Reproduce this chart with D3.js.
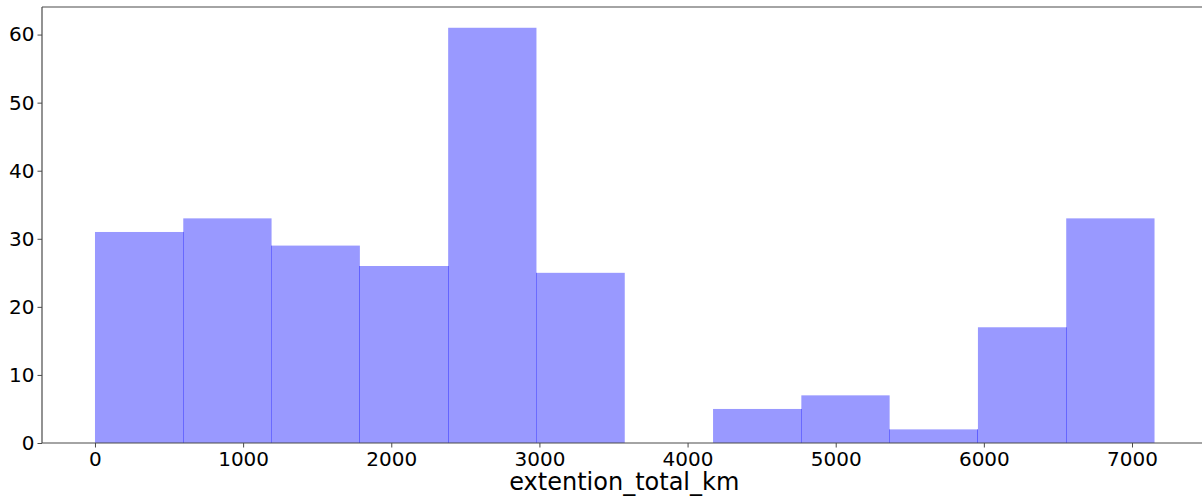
<!DOCTYPE html>
<html>
<head>
<meta charset="utf-8">
<script src="https://cdn.jsdelivr.net/npm/d3@7"></script>
<style>
  html, body { margin: 0; padding: 0; background: #fff; }
  svg { display: block; }
  text { font-family: "DejaVu Sans", sans-serif; fill: #000; }
</style>
</head>
<body>
<svg id="chart" width="1202" height="497"></svg>
<script>
// Histogram of extention_total_km: 12 equal bins
const binStart = 0;
const binEnd = 7152;
const counts = [31, 33, 29, 26, 61, 25, 0, 5, 7, 2, 17, 33];
const xTicks = [0, 1000, 2000, 3000, 4000, 5000, 6000, 7000];
const yTicks = [0, 10, 20, 30, 40, 50, 60];
const xLabel = "extention_total_km";

const W = 1202, H = 497;
const plotLeft = 42, plotTop = 7, plotBottom = 443;
const plotRight = 1207.5;

const svg = d3.select("#chart");

const binW = (binEnd - binStart) / counts.length;
const bins = counts.map((c, i) => ({ x0: binStart + i * binW, x1: binStart + (i + 1) * binW, n: c }));

const pad = (binEnd - binStart) * 0.05;
const x = d3.scaleLinear().domain([binStart - pad, binEnd + pad]).range([plotLeft, plotRight]);
const yMax = d3.max(counts) * 1.05;
const y = d3.scaleLinear().domain([0, yMax]).range([plotBottom, plotTop]);

// bars
svg.append("g").selectAll("rect")
  .data(bins.filter(d => d.n > 0))
  .join("rect")
  .attr("x", d => x(d.x0))
  .attr("width", d => x(d.x1) - x(d.x0))
  .attr("y", d => y(d.n))
  .attr("height", d => y(0) - y(d.n))
  .attr("fill", "#9999ff");

// seams where two filled bars touch
const seams = [];
for (let i = 1; i < bins.length; i++) {
  if (bins[i].n > 0 && bins[i - 1].n > 0) seams.push({ at: bins[i].x0, h: Math.min(bins[i].n, bins[i - 1].n) });
}
svg.append("g").selectAll("line")
  .data(seams)
  .join("line")
  .attr("x1", d => Math.floor(x(d.at)) + 0.5).attr("x2", d => Math.floor(x(d.at)) + 0.5)
  .attr("y1", y(0)).attr("y2", d => y(d.h))
  .attr("stroke", "rgba(0,0,255,0.4)")
  .attr("stroke-width", 1);

// spines
const spine = svg.append("g").attr("stroke", "#4a4a4a").attr("stroke-width", 1.2).attr("fill", "none");
spine.append("line").attr("x1", plotLeft).attr("x2", W).attr("y1", plotTop).attr("y2", plotTop);
spine.append("line").attr("x1", plotLeft).attr("x2", W).attr("y1", plotBottom).attr("y2", plotBottom);
spine.append("line").attr("x1", plotLeft).attr("x2", plotLeft).attr("y1", plotTop).attr("y2", plotBottom);

// x axis
const xAxis = d3.axisBottom(x).tickValues(xTicks).tickSize(4.5).tickPadding(4.5).tickFormat(d3.format("d"));
const gx = svg.append("g").attr("transform", `translate(0,${plotBottom})`).call(xAxis);
gx.select(".domain").remove();
gx.selectAll(".tick line").attr("stroke", "#4a4a4a").attr("stroke-width", 1);
gx.selectAll(".tick text").attr("font-size", 20).attr("font-family", "DejaVu Sans").attr("fill", "#000");

// y axis
const yAxis = d3.axisLeft(y).tickValues(yTicks).tickSize(4.5).tickPadding(3).tickFormat(d3.format("d"));
const gy = svg.append("g").attr("transform", `translate(${plotLeft},0)`).call(yAxis);
gy.select(".domain").remove();
gy.selectAll(".tick line").attr("stroke", "#4a4a4a").attr("stroke-width", 1);
gy.selectAll(".tick text").attr("font-size", 20).attr("font-family", "DejaVu Sans").attr("fill", "#000");

// x axis title
svg.append("text")
  .attr("x", (plotLeft + plotRight) / 2 - 0.5)
  .attr("y", 490)
  .attr("text-anchor", "middle")
  .attr("font-size", 24)
  .text(xLabel);
</script>
</body>
</html>
